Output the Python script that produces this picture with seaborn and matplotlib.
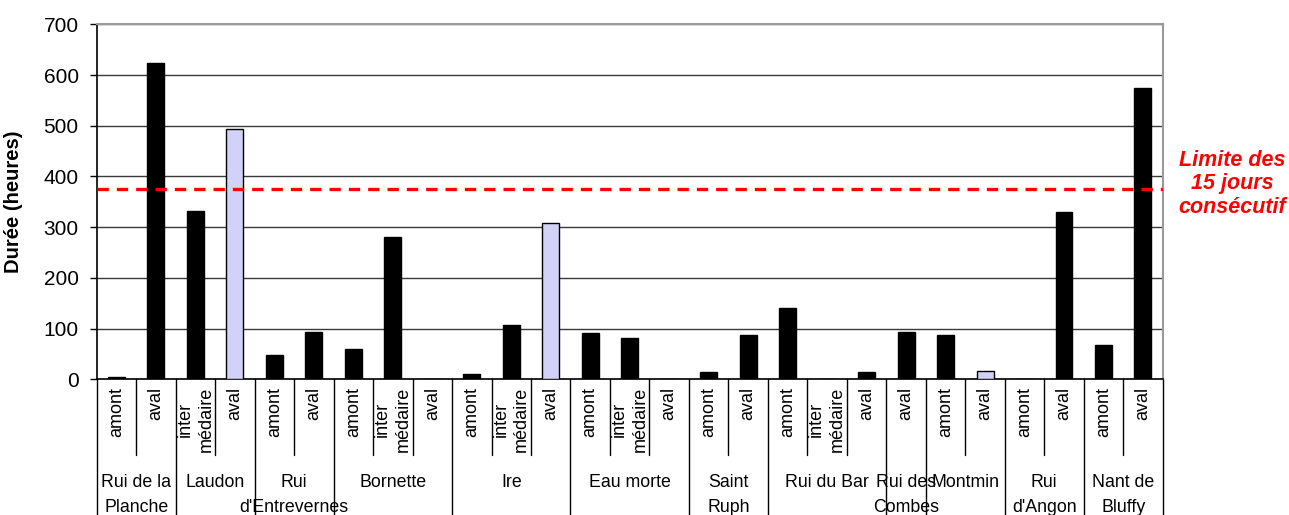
import matplotlib
matplotlib.use("Agg")
import matplotlib.pyplot as plt
import matplotlib.transforms as mtransforms
import seaborn as sns
import pandas as pd
import numpy as np

# ---------------- data ----------------
stations = ["Rui de la\nPlanche", "Rui de la\nPlanche",
            "Laudon", "Laudon",
            "Rui\nd'Entrevernes", "Rui\nd'Entrevernes",
            "Bornette", "Bornette", "Bornette",
            "Ire", "Ire", "Ire",
            "Eau morte", "Eau morte", "Eau morte",
            "Saint\nRuph", "Saint\nRuph",
            "Rui du Bar", "Rui du Bar", "Rui du Bar",
            "Rui des\nCombes",
            "Montmin", "Montmin",
            "Rui\nd'Angon", "Rui\nd'Angon",
            "Nant de\nBluffy", "Nant de\nBluffy"]
positions = ["amont", "aval",
             "inter\nmédaire", "aval",
             "amont", "aval",
             "amont", "inter\nmédaire", "aval",
             "amont", "inter\nmédaire", "aval",
             "amont", "inter\nmédaire", "aval",
             "amont", "aval",
             "amont", "inter\nmédaire", "aval",
             "aval",
             "amont", "aval",
             "amont", "aval",
             "amont", "aval"]
durations = [4, 624,
             332, 494,
             47, 94,
             60, 280, 0,
             11, 107, 309,
             91, 81, 0,
             14, 87,
             140, 0, 14,
             94,
             87, 17,
             0, 329,
             67, 575]
highlight = [0, 0,
             0, 1,
             0, 0,
             0, 0, 0,
             0, 0, 1,
             0, 0, 0,
             0, 0,
             0, 0, 0,
             0,
             0, 1,
             0, 0,
             0, 0]
limit_value = 375
limit_text = "Limite des\n15 jours\nconsécutif"
y_label = "Durée (heures)"

# ---------------- style ----------------
sns.set_theme(style="white")
plt.rcParams["font.family"] = ["Liberation Sans", "DejaVu Sans"]

W, H = 1289, 515
fig = plt.figure(figsize=(W / 100, H / 100), dpi=100)
ax_left, ax_right, ax_top, ax_bot = 96.7, 1162.7, 24.3, 379.3
ax = fig.add_axes([ax_left / W, 1 - ax_bot / H, (ax_right - ax_left) / W, (ax_bot - ax_top) / H])

n = len(durations)
df = pd.DataFrame({
    "slot": [f"{i}" for i in range(n)],
    "val": durations,
    "kind": ["hl" if h else "normal" for h in highlight],
})
sns.barplot(data=df, x="slot", y="val", hue="kind", dodge=False,
            palette={"normal": "#000000", "hl": "#CCCCFF"},
            edgecolor="#000000", linewidth=1.0, width=0.43,
            legend=False, ax=ax, zorder=3)

ax.set_xlim(-0.5, n - 0.5)
ax.set_ylim(0, 700)
ax.set_yticks(np.arange(0, 701, 100))
ax.yaxis.grid(True, color="#3a3a3a", linewidth=1.0, zorder=0)
ax.set_axisbelow(True)
ax.tick_params(axis="y", left=True, length=5, width=1, color="black",
               labelsize=15, pad=8, labelcolor="black")
ax.set_xticks([])
ax.set_xlabel("")
ax.set_ylabel(y_label, fontsize=14.5, fontweight="bold", color="black")
ax.yaxis.set_label_coords(-0.0696, 0.5)

for s in ["left", "bottom"]:
    ax.spines[s].set_color("black")
    ax.spines[s].set_linewidth(1.2)
for s in ["top", "right"]:
    ax.spines[s].set_color("#9a9a9a")
    ax.spines[s].set_linewidth(1.5)

# limit line
ax.axhline(limit_value, color="#FF0000", linewidth=2.4,
           linestyle=(0, (3.4, 2.4)), zorder=4)
fig.text(1232 / W, 1 - 184 / H, limit_text, color="#FF0000", fontsize=15.5,
         fontweight="bold", fontstyle="italic", ha="center", va="center",
         linespacing=1.15)

# ---------------- category table ----------------
tr = mtransforms.blended_transform_factory(ax.transData, fig.transFigure)
y_axis_fig = 1 - ax_bot / H
y_sub_end = 1 - 455 / H
y_pos_label = 1 - 387 / H
y_grp_label = 1 - 474 / H

# group boundaries
bounds = [0]
for i in range(1, n):
    if stations[i] != stations[i - 1]:
        bounds.append(i)
bounds.append(n)

for i in range(n + 1):
    x = i - 0.5
    ytop = y_axis_fig
    ybot = 0.0 if i in bounds else y_sub_end
    ax.plot([x, x], [ytop, ybot], transform=tr, color="black",
            linewidth=1.0, clip_on=False)

for i, p in enumerate(positions):
    ax.text(i, y_pos_label, p, transform=tr, rotation=90, ha="center",
            va="top", multialignment="center", fontsize=13,
            linespacing=1.3, color="black")

for a, b in zip(bounds[:-1], bounds[1:]):
    cx = (a + b - 1) / 2
    ax.text(cx, y_grp_label, stations[a], transform=tr, ha="center",
            va="top", multialignment="center", fontsize=12.8,
            linespacing=1.6, color="black")

fig.savefig("out.png", dpi=100)
